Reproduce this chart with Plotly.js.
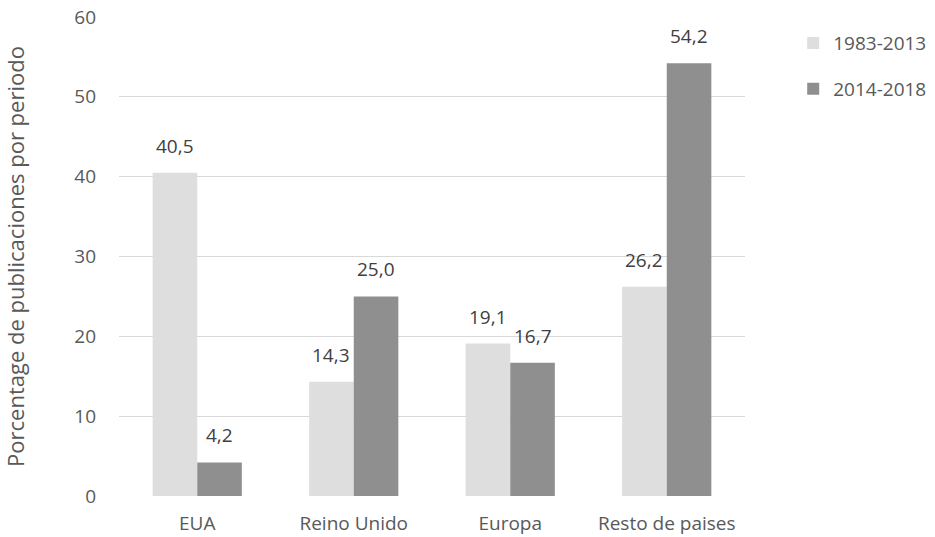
<!DOCTYPE html>
<html>
<head>
<meta charset="utf-8">
<script src="https://cdn.plot.ly/plotly-3.0.1.min.js"></script>
<style>html,body{margin:0;padding:0;background:#fff;}#chart{width:935px;height:537px;}</style>
</head>
<body>
<div id="chart"></div>
<script>
const categories = ["EUA", "Reino Unido", "Europa", "Resto de paises"];
const seriesNames = ["1983-2013", "2014-2018"];
const values1983 = [40.5, 14.3, 19.1, 26.2];
const values2014 = [4.2, 25.0, 16.7, 54.2];
const yTicks = [0, 10, 20, 30, 40, 50, 60];

const fmt = v => v.toFixed(1).replace('.', ',');
const fam = "Open Sans, sans-serif";
const bargap = 0.43;
const halfBar = (1 - bargap) / 4;

function bar(name, vals, color, group) {
  return {
    type: "bar", name: name, x: categories, y: vals,
    marker: {color: color},
    legendgroup: group, hoverinfo: "x+y"
  };
}

const data = [
  bar(seriesNames[0], values1983, "#dedede", "a"),
  bar(seriesNames[1], values2014, "#8f8f8f", "b")
];

const annotations = [];
[values1983, values2014].forEach((vals, s) => {
  vals.forEach((v, i) => {
    annotations.push({
      x: i + (s === 0 ? -halfBar : halfBar), y: v, xref: "x", yref: "y",
      text: fmt(v), showarrow: false, yanchor: "bottom", yshift: 12,
      font: {family: fam, size: 19, color: "#404040"}
    });
  });
});

const layout = {
  width: 935, height: 537,
  margin: {l: 119, r: 190, t: 17, b: 41, autoexpand: false},
  paper_bgcolor: "#fff", plot_bgcolor: "#fff",
  font: {family: fam, color: "#595959", size: 19},
  barmode: "group", bargap: bargap, bargroupgap: 0,
  xaxis: {showgrid: false, showline: false, zeroline: false, ticks: "",
          ticklabelstandoff: 14, tickfont: {size: 19, color: "#595959"}},
  yaxis: {
    range: [0, 60], tickvals: yTicks, ticktext: yTicks.map(String),
    showgrid: true, gridcolor: "#d9d9d9", gridwidth: 1.3,
    zeroline: false, showline: false, ticks: "", ticklabelstandoff: 22,
    tickfont: {size: 19, color: "#595959"},
    title: {text: "Porcentage de publicaciones por periodo", font: {size: 22, color: "#595959"}, standoff: 44}
  },
  annotations: annotations,
  showlegend: true,
  legend: {
    x: 1.077, xanchor: "left", y: 0.985, yanchor: "top",
    traceorder: "grouped", tracegroupgap: 18,
    font: {size: 19, color: "#595959"}, itemwidth: 30
  }
};

Plotly.newPlot("chart", data, layout, {displayModeBar: false, staticPlot: true});
</script>
</body>
</html>
